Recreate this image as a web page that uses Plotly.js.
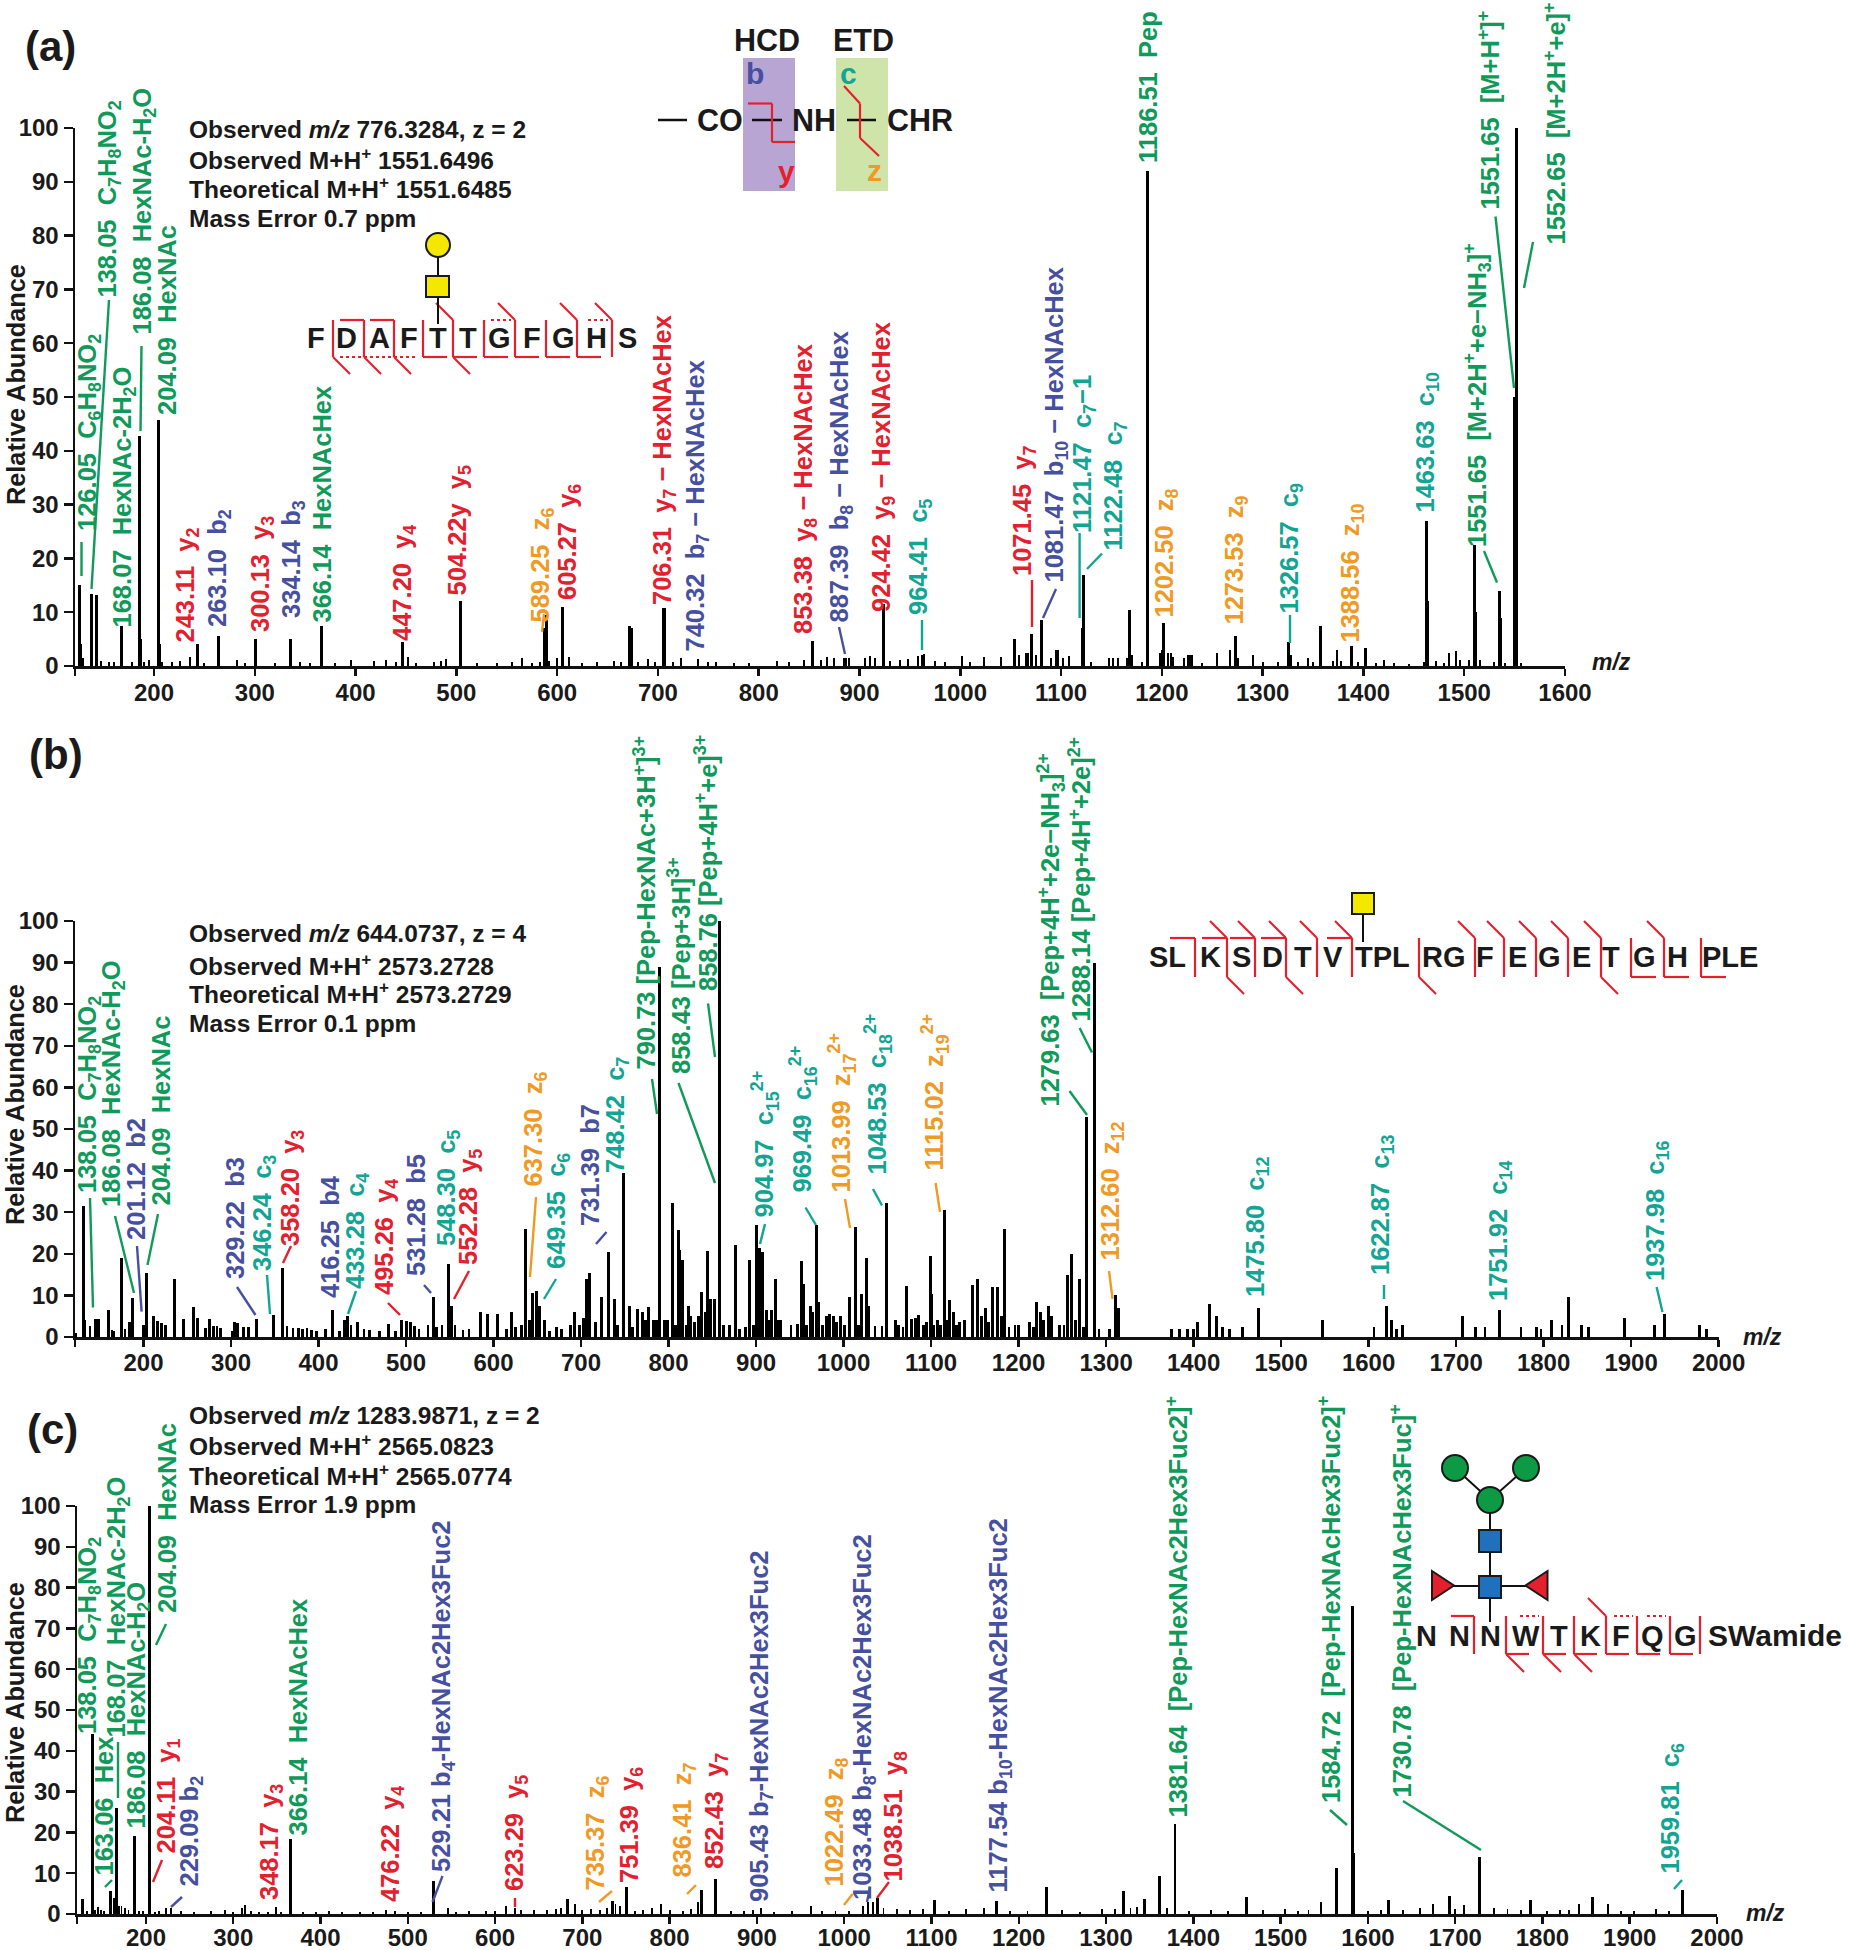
<!DOCTYPE html>
<html><head><meta charset="utf-8">
<script src="https://cdn.plot.ly/plotly-3.0.1.min.js"></script>
<style>html,body{margin:0;padding:0;background:#fff}#chart{width:1849px;height:1950px}</style>
</head><body><div id="chart"></div>
<script>
// ---------- spectrum values (m/z, relative abundance) ----------
const mzA=[126,127,138,143,168,186,187,204,205,243,264,301,335,366,447,504,587,589,605,672,674,706,853,887,924,964,1054,1065,1071,1081,1095,1121,1122,1168,1186,1202,1209,1228,1255,1268,1273,1290,1326,1328,1345,1357,1374,1388,1402,1420,1463,1464,1485,1492,1510,1511,1535,1536,1550,1552,
130,147,155,160,178,190,195,208,218,226,236,250,282,290,320,345,355,380,395,418,430,440,452,460,478,485,490,520,540,555,565,575,583,592,600,612,625,640,656,663,680,690,697,715,723,740,750,758,775,790,818,830,845,862,868,875,885,890,905,910,915,930,940,948,958,962,975,985,1002,1010,1024,1040,1058,1067,1075,1090,1097,1102,1108,1130,1148,1152,1156,1165,1170,1180,1198,1200,1206,1211,1222,1226,1230,1240,1276,1300,1315,1335,1350,1370,1378,1395,1412,1430,1445,1460,1472,1480,1496,1505,1516,1530,1540,1556];
const abA=[15,4,13.3,13.2,7.5,42.7,5,45.7,4,4,5.5,5,5,7.5,4.5,12,7,9.5,11,7.5,7,10.7,4.7,1.5,11.5,2.2,5,2.5,6,8.5,3,7,17,10.5,92,8,2.5,2,2.5,3,5.5,2,4.5,2,1.5,7.5,3,3.8,3.3,1.2,27,12,2.5,2.8,22.5,10,14,9,50,100,
1.5,1,.8,.7,.8,.8,1.2,.8,.8,1,1.6,.5,1.2,.5,.6,.7,.5,.6,1.2,1,1.1,.8,1.6,.6,.7,1,1.3,.6,.5,.7,1.5,.6,.7,.9,1.5,1.7,.6,.7,1,.8,.8,1.3,.7,.8,1.5,1.3,.8,.7,.6,.5,1,.7,1.2,1.2,1.7,1.5,1.5,1.5,1.5,1.8,1.5,1,1.2,1.3,1.8,2,1,.8,1.8,.7,1.6,1.6,2,2.5,2,1.5,3,1.5,1.8,.8,1.5,1.5,1.5,1.5,2,.8,2.5,3,2.5,1.6,1.5,2,2,.5,1.5,.8,.8,.7,.8,1,1,.8,.5,.6,.4,.8,1,.6,1.2,1.2,1.2,.8,.5,.5];

const mzB=[122,131,133,139,145,149,160,164,166,174.5,179,184,187,200,203,211,216,221,225,235,246,257,262,271,275,280,284,288,301,304,307,314,320,329.5,348.6,359,364,371,377,
382,387,392,398,408,416,424,430,433,437,445,452,458,470,480,488,495,500,505,510,515,525,531,535,541,548,552,556,565,572,585,593,605,615,620,625,632,637,641,645,649,653,658,664,672,678,688,692,698,703,706,710,716,
723,731,738,742,749,755,759,764,770,774,777,783,786,790,795,799,804,808,811,813,816,820,823,825,830,834,838,842,845,848,853,858,863,870,876,881,888,893,897,901,904,907,912,915,918,922,925,928,940,947,952,954,958,962,964,969.5,971,976,980,984,988,992,997,1001,1007,1014,1017,1021,1026,1029,1036,1044,1049,1059,1063,1068,1072,1078,1082,1086,1091,1095,1099,1100,1103,1107,1111,1115,1118,1121,1126,1129,
1132,1138,1147,1153,1158,1162,1166,1170,1176,1180,1184,1189,1196,1200,1213,1217,1220,1225,1229,1234,1238,1247,1252,1256,1260,1265,1270,1274,1278,1287,1292,1304,1311,1314,
1375,1384,1393,1400,1405,1418,1426,1433,1441,1456,1474,1547,1606,1621,1626,1632,1639,1707,1722,1733,1750,1774,1792,1797,1809,1821,1828,1843,1851,1893,1927,1938,1978,1986];
const abB=[1,31.5,4,2.6,4.3,4.3,6.4,1.8,1.4,19,2,3.5,9.4,3,15.5,5,3.8,3.4,3,14,4.3,7.2,4.6,2.2,4.3,2.6,2.6,2.2,1.4,3.6,3.4,2.3,2.3,4.3,5.4,16.5,2.6,2.2,2.2,
2,2.2,1.6,1.5,2,6.5,1.5,4,5,3,3.5,2,1.8,1.5,3.2,1.5,4,3.8,3.5,2.6,2,3,9.5,2.5,3,17.5,7.5,3,1.8,2,6,5.5,5.5,2,6,2.5,3,26,4,10.5,11,7.5,4,1.5,2.5,2,3,6,3,4.5,14,15.5,3.5,
9.6,20.4,9.2,3,39.5,7.4,2.5,6.8,6,4,7.2,4,4,89,4,4,32.2,3,25.8,20.8,18.4,3,7.4,5,3.5,5,10.8,6,20.6,9.2,9.2,100,3,3,22.2,2,2.4,18.6,3,27,21.4,20.4,6.4,4,6.4,14,4,4.2,2.8,3.2,18.2,12.7,3,7.4,6,27,8.4,3,5,5.5,5,3.5,5,3,9.6,26.4,3,10.4,19,7.4,2.6,2.6,32.3,4,3,2.5,12.2,4.4,4.5,5.2,3,3.5,19.4,10.4,3,4,3,30.6,4,8.8,6,3,
3.5,4,12.5,14,5,7,3.5,12,12,5,26,2.5,3,3,3.5,2.5,8.5,6,4,7.5,5,3,3,15,20,4,14,2.5,53,90,2,2,10,7,
2,2,2,2,3.5,8,5,2.5,2,2.3,7,4,2.5,7.5,4,2,3,5,2.5,2.5,6.5,2.5,2.5,2,4,3,9.5,3,2.5,4.5,3,5.5,3,2];

const mzC=[127,138.5,145,149,159.5,164.5,166,169,186.6,204.6,223,229,310,313,349,366,475,529,546,612,623,683,692,735,738,743,751,780,790,833,836,852,905,962,1022,1027,1033,1038,1060,1104,1174,1232,1320,1344,1361,1379,1461,1546,1564,1582,1584,1624,1675,1693,1710,1728,1745,1786,1842,1857,1875,1960,1930,
132,142,152,172,176,180,192,197,210,215,240,255,275,291,300,320,330,340,355,380,395,410,425,445,460,485,500,515,555,570,590,600,630,645,660,670,676,700,710,720,728,760,770,800,815,825,870,885,895,920,940,975,990,1005,1045,1075,1090,1120,1140,1160,1190,1210,1250,1270,1295,1310,1328,1335,1370,1395,1420,1440,1480,1505,1520,1532,1600,1615,1640,1660,1700,1760,1775,1805,1820,1830,1890,1905,1945];
const abC=[3.8,44,1.8,1,5.7,4,26,2,19,100,1.4,1.4,1.5,2.2,1.6,18.5,1,8,1.5,2,1.5,3.7,2.5,3.2,2.5,2,6.5,1.5,2.5,3,6,8.5,1.5,2,2,3,3,4,1.2,3.5,3.3,6.5,5.7,3.8,9.3,22,4.2,3,11.2,75.5,15,3.5,2.5,4.5,2.3,14,1.5,3.5,2.5,4.2,2.5,6,1.2,
.8,1,.8,2,1.5,1,.8,.7,.6,.8,.7,.5,.8,1,.5,.8,.5,.5,.5,.4,.6,.7,.5,.5,.4,.8,.6,.5,.6,.8,.7,.8,1,1,1,1.2,1.5,1,1.2,1,1.5,.8,.9,1,.8,1.2,.7,.7,1,.6,.7,.7,.8,.8,1.5,1,1.2,.8,1.2,1.5,.8,.7,.9,.6,1.3,1.2,1.5,1.8,1.5,.8,1,.7,.9,1.2,.8,1,.8,1,.9,1.5,1.2,1.2,1,.8,1,1,.7,.8,.7];

// ---------- tick labels ----------
const ticksA=[200,300,400,500,600,700,800,900,1000,1100,1200,1300,1400,1500,1600];
const ticksBC=[200,300,400,500,600,700,800,900,1000,1100,1200,1300,1400,1500,1600,1700,1800,1900,2000];
const ticksY=[0,10,20,30,40,50,60,70,80,90,100];

// ---------- text ----------
const infoA=['Observed <i>m/z</i> 776.3284, z = 2','Observed M+H<sup>+</sup> 1551.6496','Theoretical M+H<sup>+</sup> 1551.6485','Mass Error 0.7 ppm'];
const infoB=['Observed <i>m/z</i> 644.0737, z = 4','Observed M+H<sup>+</sup> 2573.2728','Theoretical M+H<sup>+</sup> 2573.2729','Mass Error 0.1 ppm'];
const infoC=['Observed <i>m/z</i> 1283.9871, z = 2','Observed M+H<sup>+</sup> 2565.0823','Theoretical M+H<sup>+</sup> 2565.0774','Mass Error 1.9 ppm'];

const S=t=>'<sub>'+t+'</sub>', U=t=>'<sup>'+t+'</sup>';
const ionsA=[
'126.05  C'+S(6)+'H'+S(8)+'NO'+S(2),'138.05  C'+S(7)+'H'+S(8)+'NO'+S(2),'168.07  HexNAc-2H'+S(2)+'O','186.08  HexNAc-H'+S(2)+'O','204.09  HexNAc',
'243.11  y'+S(2),'263.10  b'+S(2),'300.13  y'+S(3),'334.14  b'+S(3),'366.14  HexNAcHex','447.20  y'+S(4),'504.22y  y'+S(5),'589.25  z'+S(6),'605.27  y'+S(6),
'706.31  y'+S(7)+' − HexNAcHex','740.32  b'+S(7)+' − HexNAcHex','853.38  y'+S(8)+' − HexNAcHex','887.39  b'+S(8)+' − HexNAcHex','924.42  y'+S(9)+' − HexNAcHex','964.41  c'+S(5),
'1071.45  y'+S(7),'1081.47  b'+S(10)+' − HexNAcHex','1121.47  c'+S(7)+'−1','1122.48  c'+S(7),'1186.51  Pep','1202.50  z'+S(8),'1273.53  z'+S(9),'1326.57  c'+S(9),'1388.56  z'+S(10),'1463.63  c'+S(10),
'1551.65  [M+2H'+U('+')+'+e−NH'+S(3)+']'+U('+'),'1551.65  [M+H'+U('+')+']'+U('+'),'1552.65  [M+2H'+U('+')+'+e]'+U('+')];
const ionPosA=[['G',88.5,531],['G',109,298],['G',123,627],['G',143,335],['G',167,415],
['R',186,643],['B',219,627],['R',262,632],['B',293,618],['G',322,623],['R',404,641],['R',459,596],['O',542,623],['R',569,600],
['R',664,605],['B',697,652],['R',805,634],['B',841,623],['R',883,612],['T',920,615],
['R',1023.5,576],['B',1055,583],['T',1084,533],['T',1114,551],['G',1148,163],['O',1166,618],['O',1235,625],['T',1290,614],['O',1351,643],['T',1426.5,513],
['G',1477,547],['G',1488,210],['G',1554.5,245]];

const ionsB=[
'138.05  C'+S(7)+'H'+S(8)+'NO'+S(2),'186.08  HexNAc-H'+S(2)+'O','201.12  b2','204.09  HexNAc','329.22  b3','346.24  c'+S(3),'358.20  y'+S(3),'416.25  b4','433.28  c'+S(4),'495.26  y'+S(4),'531.28  b5','548.30  c'+S(5),'552.28  y'+S(5),'637.30  z'+S(6),'649.35  c'+S(6),'731.39  b7','748.42  c'+S(7),
'790.73 [Pep-HexNAc+3H'+U('+')+']'+U('3+'),'858.43 [Pep+3H]'+U('3+'),'858.76 [Pep+4H'+U('+')+'+e]'+U('3+'),
'904.97  c'+S(15)+U('2+'),'969.49  c'+S(16)+U('2+'),'1013.99  z'+S(17)+U('2+'),'1048.53  c'+S(18)+U('2+'),'1115.02  z'+S(19)+U('2+'),
'1279.63  [Pep+4H'+U('+')+'+2e−NH'+S(3)+']'+U('2+'),'1288.14 [Pep+4H'+U('+')+'+2e]'+U('2+'),'1312.60  z'+S(12),'1475.80  c'+S(12),'1622.87  c'+S(13),'1751.92  c'+S(14),'1937.98  c'+S(16)];
const ionPosB=[['G',88.5,1193],['G',113,1207.6],['B',136,1240],['G',160,1205.5],['B',235,1279],['T',264,1271],['R',292,1246],['B',330,1298.5],['T',357,1289],['R',386,1295],['B',416,1276],['T',448,1246],['R',470,1265],['O',534,1187],['T',558,1269],['B',590,1226],['T',617,1173],
['G',644,1070],['G',678.5,1074],['G',706,991],
['T',764,1218],['T',802,1193],['O',841,1193],['T',877,1175],['O',934,1171],
['G',1050,1107],['G',1080,1022],['O',1111,1261],['T',1257,1297],['T',1382,1275],['T',1500,1301],['T',1657,1281]];

const ionsC=[
'138.05  C'+S(7)+'H'+S(8)+'NO'+S(2),'163.06  Hex','168.07  HexNAc-2H'+S(2)+'O','186.08  HexNAc-H'+S(2)+'O','204.09  HexNAc','204.11  y'+S(1),'229.09 b'+S(2),'348.17  y'+S(3),'366.14  HexNAcHex','476.22  y'+S(4),
'529.21 b'+S(4)+'-HexNAc2Hex3Fuc2','623.29  y'+S(5),'735.37  z'+S(6),'751.39  y'+S(6),'836.41  z'+S(7),'852.43  y'+S(7),'905.43 b'+S(7)+'-HexNAc2Hex3Fuc2','1022.49  z'+S(8),'1033.48 b'+S(8)+'-HexNAc2Hex3Fuc2','1038.51  y'+S(8),
'1177.54 b'+S(10)+'-HexNAc2Hex3Fuc2','1381.64  [Pep-HexNAc2Hex3Fuc2]'+U('+'),'1584.72  [Pep-HexNAcHex3Fuc2]'+U('+'),'1730.78  [Pep-HexNAcHex3Fuc]'+U('+'),'1959.81  c'+S(6)];
const ionPosC=[['G',88.5,1734],['G',103,1876],['G',117,1738],['G',137,1829],['G',167,1613],['R',167,1854],['B',190,1887],['R',271,1900],['G',297,1836],['R',392,1902],
['B',442.5,1872.5],['R',516,1891],['O',596,1891],['R',631,1883],['O',683,1878],['R',716,1869],['B',761,1902],['O',835,1887],['B',864,1900],['R',894,1882],
['B',999,1892.5],['G',1176,1818],['G',1329,1803.5],['G',1400,1798],['T',1671,1874]];

// ---------- styles ----------
const COL={G:'#109a5a',R:'#e4202e',B:'#46509f',T:'#12a594',O:'#f09a26',K:'#1a1a1a'};
const FONT='"Liberation Sans", Arial, sans-serif';
const W=1849,H=1950;
const px=x=>x/W, py=y=>1-y/H;

// ---------- leader lines (page positions) ----------
const leaders=[
['G',81.5,542,81.5,576],['G',109,300,91.5,589],['G',141.5,346,140.5,431],['O',544,614,542,632],['B',839,627,845,654],['T',922,620,922,650],
['R',1032,580,1032,627],['B',1056,589,1043,618],['T',1079.6,533,1079.6,618],['T',1102,553.5,1087,569],['T',1290,615,1290,643],['G',1484,551,1497,582.5],['G',1495.5,216.5,1514,388],['G',1533,242,1524,288],
['G',90,1198,93,1307.5],['G',115,1216,134,1293],['B',137,1246,141.6,1311.6],['G',158,1214,147.5,1265],['B',237,1287,255.5,1315],['T',267,1275,270,1314],['R',291,1246,283,1263],['T',356,1291,348,1314],['R',388,1303,400,1315],['B',424,1285,431,1293],['R',469,1271,454,1299],['O',536,1197,530,1277],['T',556,1279,544,1299],['B',606.5,1232,596,1244],['G',652,1079,657,1114],['G',678.5,1083,715,1183],['G',708,1003.5,715,1057],['T',765,1224,760,1244],['T',805.5,1207.5,816,1225],['O',845,1199,850,1228],['T',873,1189,882,1205.5],['O',935.6,1183,940,1212],['G',1069.5,1091,1087,1115],['G',1079.6,1028,1092,1052.5],['O',1109,1271,1112.6,1299],['T',1384,1285,1384,1299],['T',1656.6,1287,1662.5,1312],
['G',112,1880,105,1887],['G',118,1742,118,1798],['G',166,1624,156,1645],['R',162,1860,153,1882],['B',182,1897,171,1907],['B',442.5,1876,432.5,1902],['R',515,1898,515,1907],['O',612,1891,599,1902],['O',696,1885,687,1894],['O',852.5,1894,844,1905],['B',870,1887,867,1902],['R',889,1882,877,1898],['G',1330,1810,1347,1825],['G',1403,1801,1481,1850],['T',1682,1880,1674,1889]];

// peptide fragment marks: [x, flags]
const fragA=[[333,'z'],[364,'bz'],[394,'bzY'],[423,'y'],[453,'cyz'],[484,'y'],[515,'cyD'],[546,'y'],[577,'cy'],[612,'cD']];
const fragB=[[1195,'b'],[1227,'bcz'],[1255,'bc'],[1286,'bcz'],[1317,'c'],[1352,'bc'],[1419,'z'],[1475,'c'],[1504,'c'],[1536,'c'],[1568,'c'],[1601,'cz'],[1631,'y'],[1664,'cy'],[1701,'y']];
const fragC=[[1474,'b'],[1506,'yz'],[1543,'Dyz'],[1574,'yz'],[1606,'cy'],[1637,'Dy'],[1670,'Dy'],[1700,'']];

const shapes=[];
const seg=(c,x0,y0,x1,y1,w,d)=>shapes.push({type:'line',xref:'paper',yref:'paper',x0:px(x0),y0:py(y0),x1:px(x1),y1:py(y1),line:{color:c,width:w||2,dash:d||'solid'},layer:'above'});
const box=(fill,x0,y0,x1,y1,lw,layer)=>shapes.push({type:'rect',xref:'paper',yref:'paper',x0:px(x0),y0:py(y0),x1:px(x1),y1:py(y1),fillcolor:fill,line:{color:'#1a1a1a',width:lw===undefined?2:lw},layer:layer||'above'});
const disc=(fill,cx,cy,r)=>shapes.push({type:'circle',xref:'paper',yref:'paper',x0:px(cx-r),y0:py(cy-r),x1:px(cx+r),y1:py(cy+r),fillcolor:fill,line:{color:'#1a1a1a',width:2},layer:'above'});
const tri=(fill,pts)=>shapes.push({type:'path',xref:'paper',yref:'paper',path:'M'+pts.map(p=>px(p[0])+' '+py(p[1])).join(' L')+' Z',fillcolor:fill,line:{color:'#1a1a1a',width:2},layer:'above'});

leaders.forEach(l=>seg(COL[l[0]],l[1],l[2],l[3],l[4],2.4));

function frags(list,top,bot,hlen,sl){
  const R='#e4202e';
  list.forEach(([x,f])=>{
    seg(R,x,top,x,bot,2.2);
    if(f.includes('b')) seg(R,x-hlen,top,x,top,2.2);
    if(f.includes('D')) seg(R,x-hlen,top,x-4,top,2.2,'dot');
    if(f.includes('c')) seg(R,x-sl,top-sl,x,top,2.2);
    if(f.includes('y')) seg(R,x,bot,x+hlen,bot,2.2);
    if(f.includes('Y')) seg(R,x-hlen-30,bot,x+hlen,bot,2.2,'dot');
    if(f.includes('z')) seg(R,x,bot,x+sl,bot+sl,2.2);
  });
}
frags(fragA,320,357,24,17);
frags(fragB,938,977,25,17);
frags(fragC,1616,1654,23,18);

// HCD / ETD inset
box('#b9a5d4',743,58,795,191,0,'below');
box('#cfe4a8',836,58,888,191,0,'below');
seg('#111',658,120,687,120,2.5);seg('#111',752,120,782,120,2.5);seg('#111',847,120,876,120,2.5);
[[748,103.5,772,103.5],[772,103.5,772,142],[772,142,795,142],[844,86,860,103.5],[860,103.5,860,138],[860,138,879,156]].forEach(s=>seg('#e4202e',s[0],s[1],s[2],s[3],2.2));

// glycans
seg('#111',438,257,438,324,2);disc('#f5e800',438,245,12);box('#f5e800',426,276,449,297);
seg('#111',1363,914,1363,942,2);box('#f5e800',1352,893,1374,914);
seg('#111',1455,1468,1490,1500,2);seg('#111',1526,1468,1490,1500,2);seg('#111',1490,1500,1490,1622,2);seg('#111',1445,1586,1535,1586,2);
disc('#0d9a45',1455,1468,13);disc('#0d9a45',1526,1468,13);disc('#0d9a45',1490,1500,13);
box('#1f70bd',1479,1530,1501,1552);box('#1f70bd',1479,1576,1501,1598);
tri('#e4202e',[[1432,1571],[1432,1600],[1454,1585.5]]);tri('#e4202e',[[1547.5,1571],[1547.5,1600],[1525.6,1585.5]]);

// ---------- annotations ----------
const ann=[];
const put=(text,x,y,size,color,o)=>ann.push(Object.assign({text,xref:'paper',yref:'paper',x:px(x),y:py(y),showarrow:false,borderpad:0,borderwidth:0,font:{family:FONT,size,color,weight:700},xanchor:'center',yanchor:'middle'},o||{}));
function ions(texts,pos){texts.forEach((t,i)=>{const p=pos[i];put(t,p[1],p[2],25.5,COL[p[0]],{textangle:-90,yanchor:'bottom'});});}
ions(ionsA,ionPosA);ions(ionsB,ionPosB);ions(ionsC,ionPosC);
function info(lines,ys){lines.forEach((t,i)=>put(t,189,ys[i],24.5,COL.K,{xanchor:'left'}));}
info(infoA,[129.5,158.5,187.5,218]);info(infoB,[934,964,992.5,1023]);info(infoC,[1415.6,1444.7,1474.5,1504]);
put('(a)',50,47,42,COL.K);put('(b)',56,755,42,COL.K);put('(c)',52,1429,42,COL.K);
[[385,16],[1105,15],[1703,15]].forEach(a=>put('Relative Abundance',a[1],a[0],25.3,COL.K,{textangle:-90}));
put('<i>m/z</i>',1611,662,23,COL.K);put('<i>m/z</i>',1762,1337,23,COL.K);put('<i>m/z</i>',1765,1912.5,23,COL.K);
// inset text
put('HCD',767,40,30.5,COL.K);put('ETD',863,40,30.5,COL.K);
put('CO',720,120,30.5,COL.K);put('NH',814,120,30.5,COL.K);put('CHR',920,120,30.5,COL.K);
put('b',755,73,30,COL.B);put('c',848,73,30,COL.T);put('y',786,172,30,COL.R);put('z',874,170,30,COL.O);
// peptide sequences
[['F',316],['D',346],['A',379],['F',409],['T',438],['T',468],['G',500],['F',532],['G',563],['H',596],['S',627]].forEach(l=>put(l[0],l[1],338,29,COL.K));
[['SL',1167],['K',1210],['S',1241],['D',1272],['T',1303],['V',1333],['TPL',1382],['RG',1444],['F',1485],['E',1517],['G',1549],['E',1581],['T',1611],['G',1644],['H',1677],['PLE',1730]].forEach(l=>put(l[0],l[1],957,29,COL.K));
[['N',1426],['N',1459],['N',1490],['W',1526],['T',1559],['K',1590],['F',1621],['Q',1652],['G',1685]].forEach(l=>put(l[0],l[1],1635.5,29,COL.K));
put('SWamide',1775,1635.5,30,COL.K);

// ---------- traces ----------
const trace=(x,y,xa,ya,big,small)=>({type:'bar',x,y,xaxis:xa,yaxis:ya,width:y.map(v=>v>3?big:small),marker:{color:'#000',line:{width:0}},hoverinfo:'x+y',showlegend:false});
const data=[trace(mzA,abA,'x','y',3,2),trace(mzB,abB,'x2','y2',3.4,3),trace(mzC,abC,'x3','y3',3.4,2.2)];

const xAxis=(l,r,range,ticks,anchor,off)=>({domain:[px(l),px(r)],range,anchor,tickmode:'array',tickvals:[range[0]].concat(ticks),ticktext:[''].concat(ticks.map(String)),ticks:'outside',ticklen:7,tickwidth:2.5,tickcolor:'#111',ticklabelstandoff:off,showline:true,linecolor:'#111',linewidth:2.5,showgrid:false,zeroline:false,tickfont:{family:FONT,size:24,color:COL.K,weight:700},tickangle:0,fixedrange:true});
const yAxis=(bot,top,anchor)=>({domain:[py(bot),py(top)],range:[0,100],anchor,tickmode:'array',tickvals:ticksY,ticktext:ticksY.map(String),ticks:'outside',ticklen:9,tickwidth:2.5,tickcolor:'#111',showline:true,linecolor:'#111',linewidth:2.5,showgrid:false,zeroline:false,tickfont:{family:FONT,size:24,color:COL.K,weight:700},fixedrange:true});

const layout={width:W,height:H,margin:{l:0,r:0,t:0,b:0,pad:0},paper_bgcolor:'#fff',plot_bgcolor:'#fff',showlegend:false,barmode:'overlay',bargap:0,
 xaxis:xAxis(75,1565,[121.6,1600],ticksA,'y',-3),yaxis:yAxis(666,128,'x'),
 xaxis2:xAxis(75,1718.6,[121.7,2000],ticksBC,'y2',-4),yaxis2:yAxis(1337,921,'x2'),
 xaxis3:xAxis(77,1717,[121,2000],ticksBC,'y3',-6),yaxis3:yAxis(1914,1506,'x3'),
 annotations:ann,shapes};
Plotly.newPlot('chart',data,layout,{staticPlot:true,displayModeBar:false});
</script></body></html>
